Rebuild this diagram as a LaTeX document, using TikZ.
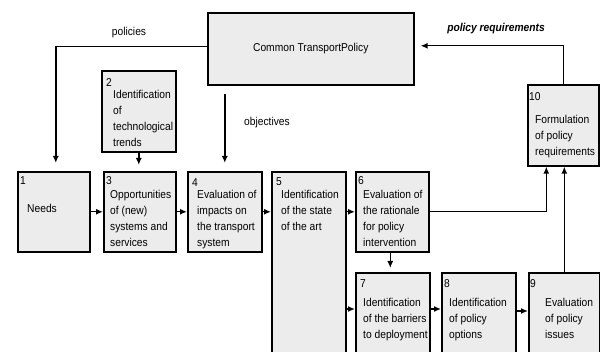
\documentclass[tikz,border=0pt]{standalone}
\usepackage{fontspec}
\setmainfont[FakeStretch=0.9]{Liberation Sans}
\usetikzlibrary{calc,arrows.meta}

\begin{document}
\begin{tikzpicture}[x=1pt,y=-1pt,
  box/.style={draw,line width=1.6pt,fill=gray!15,anchor=north west,inner sep=0pt},
  num/.style={anchor=west,inner sep=0pt,font=\fontsize{11.4}{16}\selectfont},
  txt/.style={anchor=north west,inner sep=0pt,align=left,font=\fontsize{11.4}{16}\selectfont},
  lbl/.style={inner sep=0pt,font=\fontsize{11.4}{16}\selectfont},
  arr/.style={line width=1.4pt,-{Latex[length=7pt,width=6pt]}}]
\useasboundingbox (0,0) rectangle (600,352);
% boxes
\node[box,minimum width=206pt,minimum height=72pt,font=\fontsize{11.4}{16}\selectfont] (ctp) at (207,12) {Common TransportPolicy};
\foreach \n/\x/\y/\w/\h in {1/17/171/72/80, 2/101/70/74/81, 3/103/171/72/80, 4/187/171/74/80,
  5/271/171/74/189, 6/355/171/73/80, 7/355/272/74/88, 8/441/272/74/88, 9/528/272/71/88, 10/527/84/71/81}{
  \node[box,minimum width=\w pt,minimum height=\h pt] (b\n) at (\x,\y) {};
}
% numbers and texts
\foreach \n/\x/\y in {1/20/181, 2/106/83, 3/106/181, 4/192/183, 5/276/182, 6/358/181,
  7/360/284, 8/444/284, 9/530/284, 10/529/97}{
  \node[num] (n\n) at (\x,\y) {\n};
}
\foreach \n/\x/\y/\t in {1/27/204/{Needs},
  2/113/90/{Identification\\of\\technological\\trends},
  3/110/190/{Opportunities\\of (new)\\systems and\\services},
  4/197/190/{Evaluation of\\impacts on\\the transport\\system},
  5/281/190/{Identification\\of the state\\of the art},
  6/363/190/{Evaluation of\\the rationale\\for policy\\intervention},
  7/363/298/{Identification\\of the barriers\\to deployment},
  8/449/298/{Identification\\of policy\\options},
  9/545/298/{Evaluation\\of policy\\issues},
  10/535/115/{Formulation\\of policy\\requirements}}{
  \node[txt] (t\n) at (\x,\y) {\t};
}
% labels
\node[lbl] (lpol) at (129,33) {policies};
\node[lbl] (lobj) at (267,123) {objectives};
\node[lbl,font=\fontsize{11.4}{16}\selectfont\bfseries\itshape] (lreq) at (496,29) {policy requirements};
% connectors
\coordinate (r7) at (0,309);
\draw[arr] ([yshift=2pt]ctp.west) -| ([xshift=2pt,yshift=8pt]b1.north);
\draw[arr,shorten <=8pt,shorten >=8pt] (b4.north |- ctp.south) -- (b4.north);
\draw[arr,shorten >=6pt] (b10.north) |- ([yshift=3pt]ctp.east);
\draw[arr,shorten >=6pt] (b2.south) -- (b2.south |- b3.north);
\draw[arr] (b1.east) -- (b3.west);
\draw[arr] (b3.east) -- (b4.west);
\draw[arr] (b4.east) -- (b4.east -| b5.west);
\draw[arr] (b6.west -| b5.east) -- (b6.west);
\draw[arr] (b5.east |- r7) -- (b7.west |- r7);
\draw[arr,shorten >=4pt] ([xshift=-2pt]b6.south) -- ([xshift=-2pt]b6.south |- b7.north);
\draw[arr] (b6.east) -| ([xshift=-17pt]b10.south);
\draw[arr] (b9.north) -- (b9.north |- b10.south);
\draw[arr] (b7.east |- r7) -- (b8.west |- r7);
\draw[arr] ([yshift=-2pt]b8.east |- r7) -- ([yshift=-2pt]b9.west |- r7);
\end{tikzpicture}
\end{document}
